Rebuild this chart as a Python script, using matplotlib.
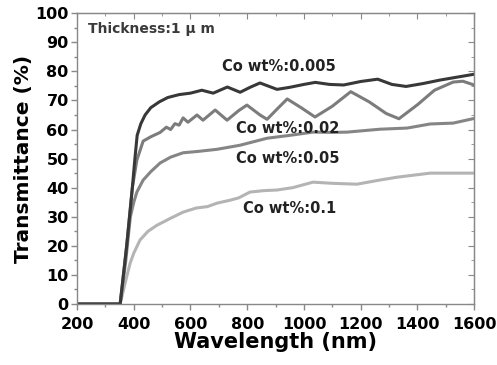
import matplotlib.pyplot as plt
import numpy as np
from matplotlib.ticker import MultipleLocator

# Co wt%:0.005
wl_005 = [200, 352, 375, 395, 404, 412, 425, 440, 460, 490, 520, 560, 600, 640, 680, 730, 775,
          810, 845, 905, 950, 1000, 1040, 1090, 1140, 1200, 1260, 1310, 1360, 1420, 1480, 1540, 1600]
t_005 = [0, 0, 20, 40, 50, 58, 62, 65, 67.5, 69.5, 71, 72, 72.5, 73.5, 72.5, 74.6, 72.8,
         74.5, 76, 73.8, 74.5, 75.5, 76.2, 75.5, 75.3, 76.5, 77.3, 75.5, 74.8, 75.8, 77, 78, 79]

# Co wt%:0.02
wl_02 = [200, 352, 375, 395, 411, 433, 460, 493, 515, 530, 545, 560, 574, 591, 623, 644, 687, 729, 770,
         799, 845, 870, 905, 941, 990, 1039, 1100, 1165, 1230, 1290, 1335, 1400, 1460, 1526, 1560, 1600]
t_02 = [0, 0, 20, 40, 49.5, 56, 57.5, 59, 60.8, 60, 62, 61.5, 64, 62.5, 65, 63.2, 66.7, 63.2, 66.5,
        68.4, 65, 63.5, 67, 70.5, 67.5, 64.3, 68, 73, 69.5, 65.5, 63.7, 68.5, 73.5, 76.3, 76.6, 75.3]

# Co wt%:0.05
wl_05 = [200, 352, 372, 388, 400, 411, 433, 460, 493, 530, 574, 630, 694, 775, 870, 951, 1032,
         1100, 1152, 1268, 1364, 1445, 1526, 1600]
t_05 = [0, 0, 15, 30, 35, 38.5, 42.6, 45.5, 48.5, 50.5, 52, 52.5, 53.2, 54.6, 57, 58, 59.1,
        59, 59.1, 60.1, 60.5, 61.9, 62.2, 63.8]

# Co wt%:0.1
wl_1 = [200, 352, 369, 387, 400, 422, 450, 482, 530, 574, 620, 660, 694, 740, 770, 810, 860,
        905, 960, 1032, 1100, 1187, 1260, 1328, 1445, 1600]
t_1 = [0, 0, 7, 14, 17.5, 22, 25, 27.1, 29.5, 31.6, 33, 33.5, 34.7, 35.7, 36.5, 38.5, 39,
       39.2, 40, 41.9, 41.5, 41.2, 42.5, 43.6, 45, 45]

fig = plt.figure(figsize=(4.97, 3.65), dpi=100)
ax = fig.add_axes([0.155, 0.167, 0.799, 0.797])

ax.plot(wl_1, t_1, color='#b4b4b4', lw=2.2)
ax.plot(wl_05, t_05, color='#858585', lw=2.2)
ax.plot(wl_02, t_02, color='#7c7c7c', lw=2.2)
ax.plot(wl_005, t_005, color='#383838', lw=2.2)

ax.set_xlim(200, 1600)
ax.set_ylim(0, 100)
ax.xaxis.set_major_locator(MultipleLocator(200))
ax.xaxis.set_minor_locator(MultipleLocator(100))
ax.yaxis.set_major_locator(MultipleLocator(10))
ax.yaxis.set_minor_locator(MultipleLocator(5))

for s in ax.spines.values():
    s.set_color('#888888')
    s.set_linewidth(1.0)
ax.tick_params(which='both', direction='out', color='#888888', width=1.0,
               labelsize=11.5)
ax.tick_params(axis='x', pad=5)
ax.tick_params(axis='y', pad=2)
ax.tick_params(which='major', length=4)
ax.tick_params(which='minor', length=2.5)
for lab in ax.get_xticklabels() + ax.get_yticklabels():
    lab.set_fontweight('bold')

# mirrored ticks pointing inward on top and right
top = ax.secondary_xaxis('top')
top.xaxis.set_major_locator(MultipleLocator(200))
top.xaxis.set_minor_locator(MultipleLocator(100))
top.tick_params(which='both', direction='in', color='#888888', labeltop=False)
top.tick_params(which='major', length=4)
top.tick_params(which='minor', length=2.5)
top.spines['top'].set_color('#888888')
right = ax.secondary_yaxis('right')
right.yaxis.set_major_locator(MultipleLocator(10))
right.yaxis.set_minor_locator(MultipleLocator(5))
right.tick_params(which='both', direction='in', color='#888888', labelright=False)
right.tick_params(which='major', length=4)
right.tick_params(which='minor', length=2.5)
right.spines['right'].set_color('#888888')

ax.set_xlabel('Wavelength (nm)', fontsize=15, fontweight='bold', labelpad=0)
ax.set_ylabel('Transmittance (%)', fontsize=14.5, fontweight='bold', labelpad=2)

ax.text(238, 94.5, 'Thickness:1 μ m', fontsize=10, fontweight='bold', color='#3a3a3a', va='center')
ax.text(711, 81.5, 'Co wt%:0.005', fontsize=10.5, fontweight='bold', color='#222222', va='center')
ax.text(761, 60.5, 'Co wt%:0.02', fontsize=10.5, fontweight='bold', color='#222222', va='center')
ax.text(761, 50, 'Co wt%:0.05', fontsize=10.5, fontweight='bold', color='#222222', va='center')
ax.text(785, 33, 'Co wt%:0.1', fontsize=10.5, fontweight='bold', color='#222222', va='center')

fig.savefig('out.png', dpi=100)
